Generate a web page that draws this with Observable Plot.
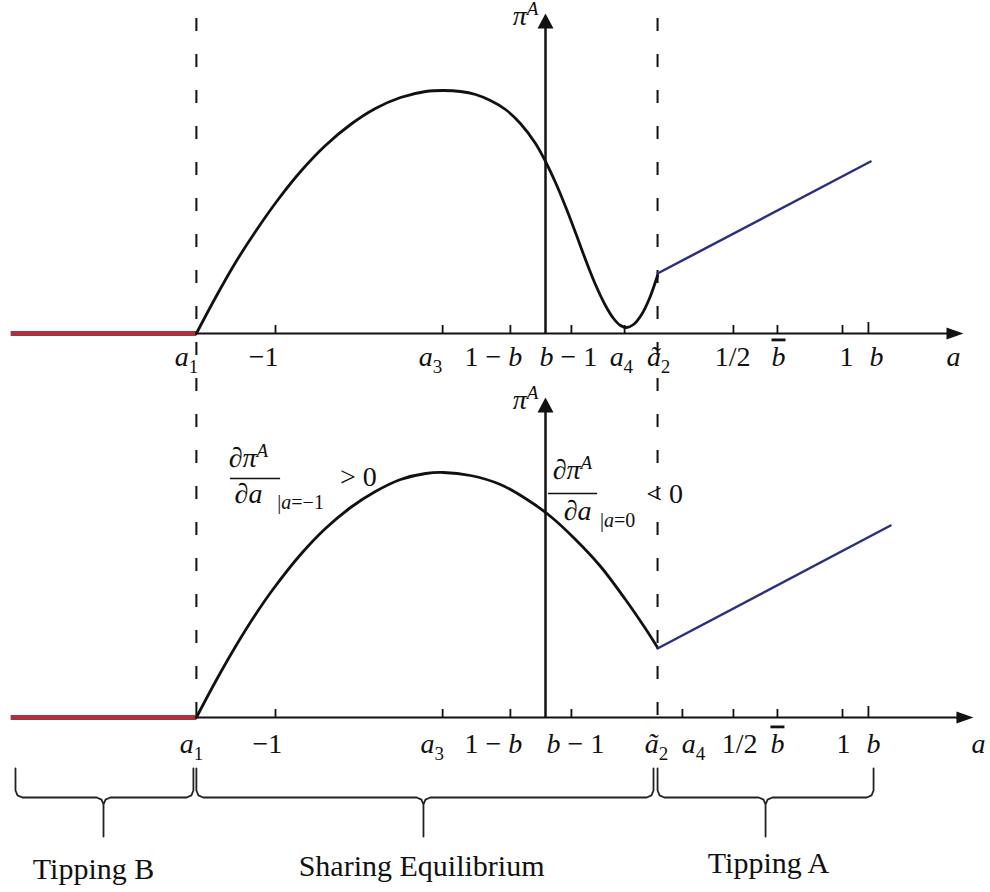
<!DOCTYPE html>
<html>
<head>
<meta charset="utf-8">
<script src="https://cdn.jsdelivr.net/npm/d3@7"></script>
<script src="https://cdn.jsdelivr.net/npm/@observablehq/plot@0.6"></script>
<style>
  html, body { margin: 0; padding: 0; background: #ffffff; }
  #chart { width: 990px; height: 892px; }
</style>
</head>
<body>
<div id="chart"></div>
<script>
// ---------------- data (schematic units) ----------------
const panels = ["top", "bottom"];

// black profit curve pi^A(a) on the sharing interval [a1, ã2]
const topCurveX = [-1.293,-1.222,-1.148,-1.074,-0.993,-0.907,-0.815,-0.722,-0.630,-0.537,-0.444,-0.378,-0.315,-0.259,-0.204,-0.148,-0.093,-0.037,0.000,0.037,0.074,0.111,0.148,0.185,0.222,0.252,0.278,0.300,0.326,0.356,0.385,0.415];
const topCurveY = [0.00,0.36,0.71,1.02,1.33,1.62,1.88,2.09,2.25,2.36,2.42,2.43,2.42,2.39,2.33,2.24,2.10,1.90,1.72,1.51,1.27,1.01,0.74,0.49,0.28,0.15,0.08,0.06,0.09,0.19,0.35,0.58];
const bottomCurveX = [-1.293,-1.222,-1.148,-1.074,-1.007,-0.907,-0.815,-0.722,-0.630,-0.537,-0.444,-0.378,-0.278,-0.167,-0.074,0.019,0.111,0.204,0.296,0.370,0.415];
const bottomCurveY = [0.00,0.36,0.71,1.03,1.29,1.63,1.89,2.10,2.26,2.38,2.44,2.45,2.42,2.33,2.19,2.01,1.78,1.51,1.18,0.89,0.70];

// blue line (tipping A) and red line (tipping B)
const topBlueX = [0.415, 1.204];
const topBlueY = [0.60, 1.72];
const bottomBlueX = [0.415, 1.278];
const bottomBlueY = [0.69, 1.92];
const redX = [-1.981, -1.293];
const redY = [0, 0];

// axes
const axisStart = -1.293;
const axisTip = [1.548, 1.585];     // top, bottom
const yAxisTip = 3.20;
const dashedAt = [-1.293, 0.415];   // a1, ã2

// tick marks
const topTicks = [-1, -0.381, -0.130, 0.096, 0.293, 0.696, 0.859, 1.100, 1.196];
const bottomTicks = [-1, -0.381, -0.130, 0.096, 0.507, 0.696, 0.859, 1.100, 1.196];

// tick labels
const topTickLabels = ["a_1", "−1", "a_3", "1 − b", "b − 1", "a_4", "ã_2", "1/2", "b\u0304", "1", "b"];
const topTickLabelX = [-1.330, -1.044, -0.426, -0.193, 0.085, 0.281, 0.419, 0.693, 0.863, 1.115, 1.226];
const bottomTickLabels = ["a_1", "−1", "a_3", "1 − b", "b − 1", "ã_2", "a_4", "1/2", "b\u0304", "1", "b"];
const bottomTickLabelX = [-1.311, -1.030, -0.419, -0.193, 0.111, 0.411, 0.548, 0.719, 0.859, 1.104, 1.215];
const xAxisTitle = "a";
const xAxisTitleX = [1.511, 1.604];
const yAxisTitle = "π^A";

// derivative annotations (bottom panel)
const annotText = ["∂π^A", "∂a", "|a=−1", "> 0", "∂π^A", "∂a", "|a=0", "< 0"];
const annotX = [-1.100, -1.100, -0.907, -0.693, 0.100, 0.119, 0.267, 0.441];
const annotY = [2.51, 2.15, 2.09, 2.32, 2.39, 1.98, 1.91, 2.15];
const annotSize = [28, 28, 20, 28, 28, 28, 20, 28];
const fracBarX1 = [-1.167, 0.011];
const fracBarX2 = [-0.981, 0.193];
const fracBarY = [2.39, 2.24];

// regions under the lower axis
const regionLabels = ["Tipping B", "Sharing Equilibrium", "Tipping A"];
const regionStart = [-1.963, -1.293, 0.415];
const regionMid = [-1.637, -0.452, 0.815];
const regionEnd = [-1.304, 0.400, 1.215];
const regionLabelX = [-1.674, -0.459, 0.826];
const regionLabelY = [-1.61, -1.58, -1.55];

// ---------------- tables ----------------
const zipXY = (panel, xs, ys) => xs.map((x, i) => ({panel, x, y: ys[i]}));
const blackCurve = [...zipXY("top", topCurveX, topCurveY), ...zipXY("bottom", bottomCurveX, bottomCurveY)];
const blueLine = [...zipXY("top", topBlueX, topBlueY), ...zipXY("bottom", bottomBlueX, bottomBlueY)];
const redLine = panels.flatMap(p => zipXY(p, redX, redY));
const axisRows = panels.map((p, i) => ({panel: p, x1: axisStart, x2: axisTip[i] - 0.04, tip: axisTip[i], titleX: xAxisTitleX[i]}));
const ticks = [...topTicks.map(x => ({panel: "top", x})), ...bottomTicks.map(x => ({panel: "bottom", x}))];
const tickLabels = [
  ...topTickLabels.map((t, i) => ({panel: "top", x: topTickLabelX[i], y: -0.32, t})),
  ...bottomTickLabels.map((t, i) => ({panel: "bottom", x: bottomTickLabelX[i], y: -0.35, t}))
];
const annots = annotText.map((t, i) => ({panel: "bottom", t, x: annotX[i], y: annotY[i], size: annotSize[i]}));
const fracBars = fracBarY.map((y, i) => ({panel: "bottom", x1: fracBarX1[i], x2: fracBarX2[i], y}));
const dashRows = dashedAt.map(x => ({panel: "top", x}));

const yT = -0.51, yH = -0.80, yB = -1.19, rx = 0.025, ry = 0.07;
const braces = regionLabels.flatMap((name, k) => {
  const s = regionStart[k], m = regionMid[k], e = regionEnd[k];
  return [
    [s, yT], [s, yH + ry], [s + rx * 0.3, yH + ry * 0.3], [s + rx, yH],
    [m - rx, yH], [m - rx * 0.3, yH - ry * 0.3], [m, yH - ry], [m, yB], [m, yH - ry],
    [m + rx * 0.3, yH - ry * 0.3], [m + rx, yH],
    [e - rx, yH], [e - rx * 0.3, yH + ry * 0.3], [e, yH + ry], [e, yT]
  ].map(([x, y]) => ({panel: "bottom", name, x, y}));
});
const regionText = regionLabels.map((t, i) => ({panel: "bottom", t, x: regionLabelX[i], y: regionLabelY[i]}));

// filled arrowheads (tip at the point)
const arrowRight = {draw(ctx) { ctx.moveTo(0, 0); ctx.lineTo(-17, -6); ctx.lineTo(-17, 6); ctx.closePath(); }};
const arrowUp = {draw(ctx) { ctx.moveTo(0, 0); ctx.lineTo(-8, 15); ctx.lineTo(8, 15); ctx.closePath(); }};

const FONT = "Liberation Serif";

const chart = Plot.plot({
  width: 990,
  height: 892,
  marginTop: 0,
  marginRight: 0,
  marginBottom: 124,
  marginLeft: 0,
  x: {domain: [-2.0185, 1.6481], axis: null},
  y: {domain: [-0.51, 3.33], axis: null},
  fy: {domain: panels, padding: 0, axis: null},
  style: {background: "#ffffff", overflow: "visible"},
  marks: [
    // dashed guides at a1 and ã2 spanning both panels
    Plot.ruleX(dashRows, {x: "x", y1: 3.15, y2: -3.84, fy: "panel", stroke: "#111", strokeWidth: 2, strokeDasharray: "13,23"}),
    // x axis
    Plot.ruleY(axisRows, {y: 0, x1: "x1", x2: "x2", fy: "panel", stroke: "#111", strokeWidth: 2}),
    Plot.dot(axisRows, {x: "tip", y: 0, fy: "panel", symbol: arrowRight, fill: "#111", stroke: "none", r: 6}),
    // tick marks
    Plot.ruleX(ticks, {x: "x", y1: 0, y2: d => d.x === 1.196 ? 0.11 : 0.08, fy: "panel", stroke: "#111", strokeWidth: 1.8}),
    // y axis
    Plot.ruleX(panels.map(p => ({panel: p})), {x: 0, y1: 0, y2: yAxisTip - 0.12, fy: "panel", stroke: "#111", strokeWidth: 2.5}),
    Plot.dot(panels.map(p => ({panel: p})), {x: 0, y: yAxisTip, fy: "panel", symbol: arrowUp, fill: "#111", stroke: "none", r: 6}),
    // profit curves
    Plot.line(redLine, {x: "x", y: "y", z: "panel", fy: "panel", stroke: "#a83240", strokeWidth: 5, strokeLinecap: "butt"}),
    Plot.line(blackCurve, {x: "x", y: "y", z: "panel", fy: "panel", stroke: "#111", strokeWidth: 2.8, curve: "catmull-rom"}),
    Plot.line(blueLine, {x: "x", y: "y", z: "panel", fy: "panel", stroke: "#2a2f7e", strokeWidth: 2.5}),
    // tick labels and axis titles
    Plot.text(tickLabels, {x: "x", y: "y", text: "t", fy: "panel", fontFamily: FONT, fontSize: 28, fill: "#111", textAnchor: "middle", lineAnchor: "bottom", ariaDescription: "math"}),
    Plot.text(axisRows, {x: "titleX", y: d => d.panel === "top" ? -0.32 : -0.35, text: () => xAxisTitle, fy: "panel", fontFamily: FONT, fontSize: 28, fill: "#111", textAnchor: "middle", lineAnchor: "bottom", ariaDescription: "math"}),
    Plot.text(panels.map(p => ({panel: p})), {x: -0.026, y: 3.09, text: () => yAxisTitle, fy: "panel", fontFamily: FONT, fontSize: 28, fill: "#111", textAnchor: "end", lineAnchor: "bottom", ariaDescription: "math"}),
    // derivative annotations
    Plot.text(annots, {x: "x", y: "y", text: "t", fy: "panel", fontFamily: FONT, fontSize: d => d.size, fill: "#111", textAnchor: "middle", lineAnchor: "bottom", ariaDescription: "math"}),
    Plot.ruleY(fracBars, {y: "y", x1: "x1", x2: "x2", fy: "panel", stroke: "#111", strokeWidth: 1.6}),
    // region braces and names
    Plot.line(braces, {x: "x", y: "y", z: "name", fy: "panel", stroke: "#222", strokeWidth: 1.8, strokeLinejoin: "round"}),
    Plot.text(regionText, {x: "x", y: "y", text: "t", fy: "panel", fontFamily: FONT, fontSize: 30, fill: "#111", textAnchor: "middle", lineAnchor: "bottom"})
  ]
});

// render simple math markup: letters italic, _sub, ^sup, combining macron -> overline
function mathify(root) {
  root.querySelectorAll('g[aria-description="math"] text').forEach(t => {
    const own = t.getAttribute("font-size");
    const anc = t.closest("[font-size]");
    const fs = parseFloat(own || (anc && anc.getAttribute("font-size")) || 27);
    const s = t.textContent;
    const runs = [];
    let mode = 0;
    for (let i = 0; i < s.length; i++) {
      const c = s[i];
      if (c === "_") { mode = 1; continue; }
      if (c === "^") { mode = 2; continue; }
      if (c === " ") mode = 0;
      let over = false;
      if (s[i + 1] === "\u0304") { over = true; i++; }
      const italic = /[A-Za-zπã∂]/.test(c);
      const last = runs[runs.length - 1];
      if (last && last.italic === italic && last.mode === mode && !over && !last.over) last.text += c;
      else runs.push({text: c, italic, mode, over});
    }
    t.textContent = "";
    let offset = 0;
    for (const r of runs) {
      const ts = document.createElementNS("http://www.w3.org/2000/svg", "tspan");
      const target = r.mode === 1 ? 0.28 * fs : r.mode === 2 ? -0.33 * fs : 0;
      if (target !== offset) { ts.setAttribute("dy", target - offset); offset = target; }
      if (r.italic) ts.setAttribute("font-style", "italic");
      if (r.mode) ts.setAttribute("font-size", fs * 0.68);
      if (r.over) ts.setAttribute("text-decoration", "overline");
      ts.textContent = r.text;
      t.appendChild(ts);
    }
  });
}
mathify(chart);
document.getElementById("chart").appendChild(chart);
</script>
</body>
</html>
